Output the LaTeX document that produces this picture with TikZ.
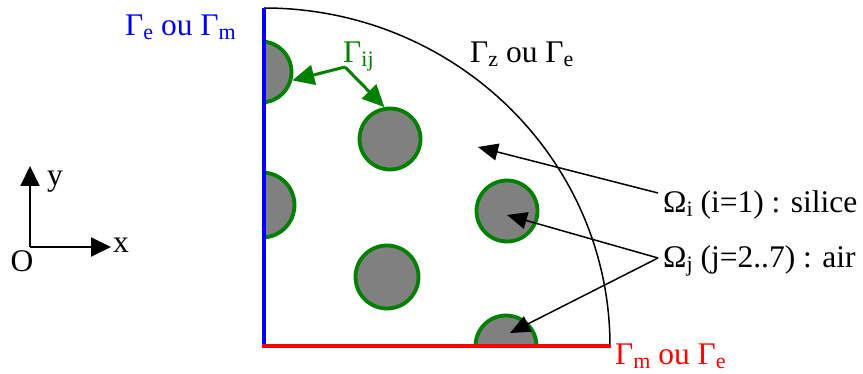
\documentclass[tikz,border=0pt]{standalone}
\usepackage{fontspec}
\setmainfont{Liberation Serif}
\usetikzlibrary{arrows.meta}
\definecolor{dgreen}{RGB}{0,128,0}
\definecolor{mgray}{RGB}{128,128,128}
\newcommand\sbx[1]{\raisebox{-4pt}{\fontsize{22}{24}\selectfont #1}}
\begin{document}
\begin{tikzpicture}[x=1pt,y=-1pt,
  hole/.style={circle,draw=dgreen,fill=mgray,line width=3.8pt,minimum size=61pt,inner sep=0pt},
  lbl/.style={font=\fontsize{31.5}{36}\selectfont,inner sep=0pt,anchor=base west},
  gline/.style={draw=dgreen,line width=3pt,-{Triangle[length=22pt,width=20pt]}},
  bline/.style={line width=1.5pt,-{Triangle[length=20pt,width=17pt]}},
  axline/.style={line width=2pt,-{Triangle[length=20pt,width=19pt]}},
]
\useasboundingbox (0,0) rectangle (863,374);
% holes
\begin{scope}
\clip (264,0) rectangle (863,346);
\node[hole] (h1) at (261,72) {};
\node[hole,minimum size=65pt] (h2) at (262,205) {};
\node[hole] (h3) at (506,346) {};
\end{scope}
\node[hole] (c1) at (390,139) {};
\node[hole] (c2) at (507,211) {};
\node[hole,minimum size=63pt] (c3) at (387,277) {};
% outer boundary
\draw[line width=1.5pt] (264,8) arc[start angle=-90,end angle=0,x radius=346,y radius=338];
\draw[blue,line width=3.5pt] (264,8) -- (264,348);
\draw[red,line width=3.5pt] (262,346) -- (611,346);
% labels
\node[lbl,text=blue] (ge) at (125,36) {Γ\sbx{e} ou Γ\sbx{m}};
\node[lbl] (gz) at (470,63) {Γ\sbx{z} ou Γ\sbx{e}};
\node[lbl,text=red] (gm) at (615,365) {Γ\sbx{m} ou Γ\sbx{e}};
\node[lbl,text=dgreen] (gij) at (343,63) {Γ\sbx{ij}};
\node[lbl] (om1) at (663,213) {Ω\sbx{i} (i=1) : silice};
\node[lbl] (om2) at (663,268) {Ω\sbx{j} (j=2..7) : air};
% green connectors
\coordinate (jg) at (345,67);
\draw[gline] (jg) -- (h1.-15);
\draw[gline] (jg) -- (c1.100);
% black connectors
\coordinate (js) at (658,193);
\coordinate (ts) at (478,147);
\draw[bline] (js) -- (ts);
\coordinate (ja) at (658,258);
\coordinate (ta1) at (507,215);
\coordinate (ta2) at (510,333);
\draw[bline] (ja) -- (ta1);
\draw[bline] (ja) -- (ta2);
% axes
\coordinate (O) at (30,247);
\coordinate (xe) at (111,247);
\coordinate (ye) at (30,166);
\draw[axline] (O) -- (xe);
\draw[axline] (O) -- (ye);
\node[lbl,anchor=base] (xl) at (121,253) {x};
\node[lbl,anchor=base] (yl) at (55,186) {y};
\node[lbl,anchor=base] (ol) at (22,272) {O};
\end{tikzpicture}
\end{document}
